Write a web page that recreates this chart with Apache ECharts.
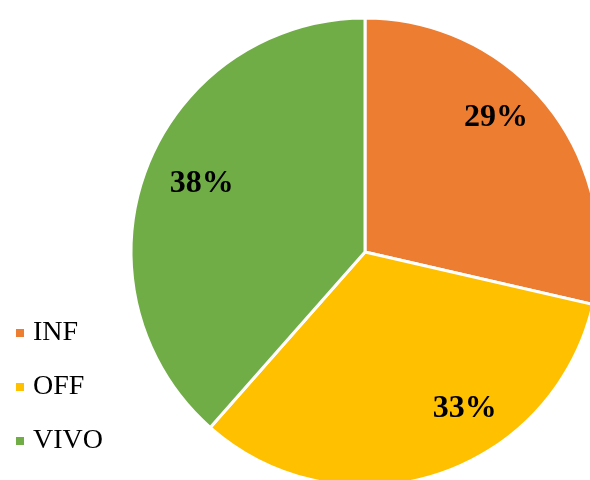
<!DOCTYPE html>
<html>
<head>
<meta charset="utf-8">
<script src="https://cdn.jsdelivr.net/npm/echarts@6/dist/echarts.min.js"></script>
<style>
  html, body { margin: 0; padding: 0; background: #fff; }
  #main { width: 590px; height: 480px; }
</style>
</head>
<body>
<div id="main"></div>
<script>
// data (slice angles estimated, labels rounded to whole %)
const categories = ['INF', 'OFF', 'VIVO'];
const shares = [28.6, 32.9, 38.5];
const colors = ['#ED7D31', '#FFC000', '#70AD47'];
// nudge labels to where the original sits them
const labelOffsets = [[37, -60], [63, 42], [-51, -26]];

let myChart = echarts.init(document.getElementById('main'));

let pieData = [];
for (let i = 0; i < categories.length; i++) {
    pieData.push({
        name: categories[i],
        value: shares[i],
        itemStyle: { color: colors[i] },
        label: { offset: labelOffsets[i] }
    });
}

let option = {
    animation: false,
    backgroundColor: '#fff',
    legend: {
        orient: 'vertical',
        left: 9,
        top: 314,
        icon: 'rect',
        itemWidth: 10,
        itemHeight: 10,
        itemGap: 26,
        data: categories,
        textStyle: {
            fontFamily: 'Liberation Serif',
            fontSize: 28,
            color: '#000',
            padding: [0, 0, 0, 3]
        }
    },
    series: [
        {
            type: 'pie',
            center: [365, 252],
            radius: 234,
            startAngle: 90,
            clockwise: true,
            percentPrecision: 0,
            itemStyle: { borderColor: '#fff', borderWidth: 3 },
            label: {
                show: true,
                position: 'inside',
                formatter: '{d}%',
                fontFamily: 'Liberation Serif',
                fontWeight: 'bold',
                fontSize: 32,
                color: '#000'
            },
            labelLine: { show: false },
            emphasis: { disabled: true },
            data: pieData
        }
    ]
};
myChart.setOption(option);
</script>
</body>
</html>
